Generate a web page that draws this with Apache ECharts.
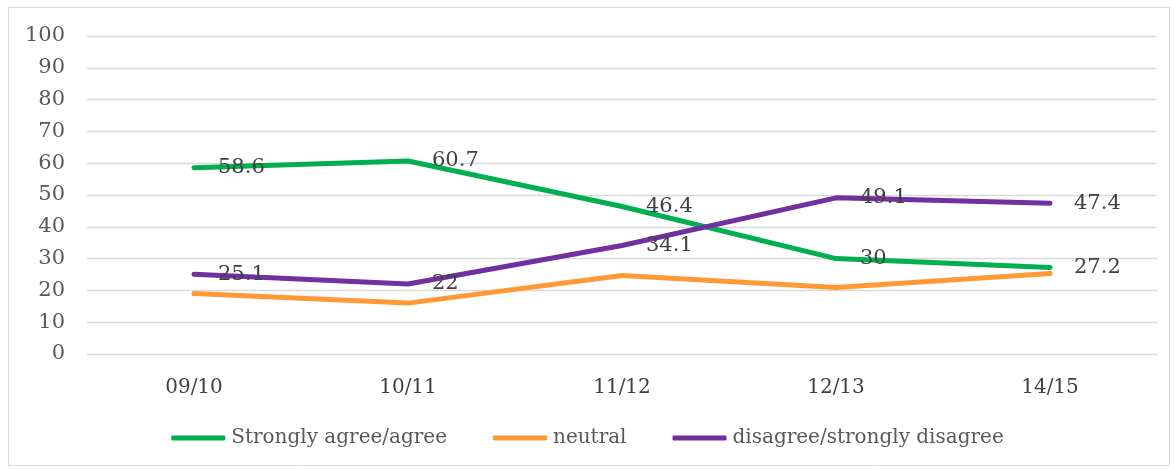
<!DOCTYPE html>
<html>
<head>
<meta charset="utf-8">
<script src="https://cdn.jsdelivr.net/npm/echarts@6/dist/echarts.min.js"></script>
<style>
html,body{margin:0;padding:0;background:#fff;}
#chart{width:1175px;height:469px;}
</style>
</head>
<body>
<div id="chart"></div>
<script>
// Survey responses by academic year (percent)
const years = ['09/10', '10/11', '11/12', '12/13', '14/15'];
const agree = [58.6, 60.7, 46.4, 30, 27.2];
const neutral = [19, 16, 24.7, 20.9, 25.3];
const disagree = [25.1, 22, 34.1, 49.1, 47.4];
const yTicks = { min: 0, max: 100, interval: 10 };

const FONT = 'DejaVu Serif';
const TEXT = '#404040';

function lineSeries(name, data, color, labelled) {
  return {
    name: name,
    type: 'line',
    data: data,
    symbol: 'circle',
    symbolSize: 0.01,
    showSymbol: true,
    itemStyle: { color: color },
    lineStyle: { color: color, width: 5, cap: 'round', join: 'round' },
    emphasis: { disabled: true },
    label: {
      show: labelled,
      position: 'right',
      distance: 24,
      color: TEXT,
      fontFamily: FONT,
      fontSize: 21
    },
    z: 3
  };
}

const chart = echarts.init(document.getElementById('chart'), null, { renderer: 'canvas' });
chart.setOption({
  animation: false,
  backgroundColor: '#fff',
  graphic: [{
    type: 'rect',
    shape: { x: 8.5, y: 7.5, width: 1161, height: 458 },
    style: { fill: 'none', stroke: '#d9d9d9', lineWidth: 1 },
    silent: true
  }],
  grid: { left: 87, right: 18, top: 36, bottom: 115, containLabel: false },
  xAxis: {
    type: 'category',
    data: years,
    boundaryGap: true,
    axisLine: { show: false },
    axisTick: { show: false },
    axisLabel: { color: TEXT, fontFamily: FONT, fontSize: 20, margin: 24 }
  },
  yAxis: {
    type: 'value',
    min: yTicks.min,
    max: yTicks.max,
    interval: yTicks.interval,
    axisLine: { show: false },
    axisTick: { show: false },
    splitLine: { lineStyle: { color: '#d9d9d9', width: 1.3 } },
    axisLabel: { color: '#595959', fontFamily: FONT, fontSize: 21, margin: 22 }
  },
  legend: {
    bottom: 16,
    left: 'center',
    itemWidth: 54,
    itemHeight: 5,
    itemGap: 46,
    icon: 'roundRect',
    textStyle: { color: '#595959', fontFamily: FONT, fontSize: 20, padding: [0, 0, 0, 1] },
    data: ['Strongly agree/agree', 'neutral', 'disagree/strongly disagree']
  },
  series: [
    lineSeries('Strongly agree/agree', agree, '#00B050', true),
    lineSeries('neutral', neutral, '#FF9933', false),
    lineSeries('disagree/strongly disagree', disagree, '#7030A0', true)
  ]
});
</script>
</body>
</html>
